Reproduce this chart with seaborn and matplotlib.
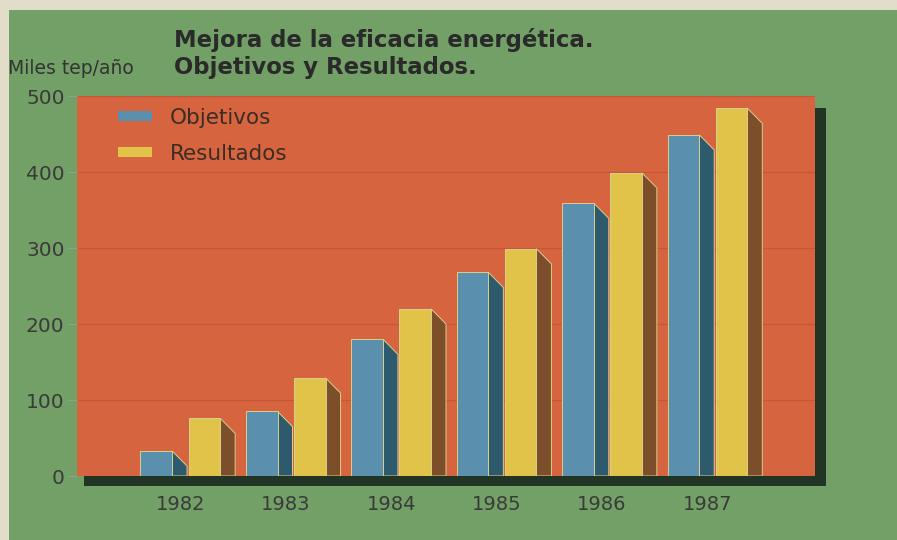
import matplotlib.pyplot as plt
import matplotlib.patches as mpatches
import seaborn as sns
import pandas as pd

# data
years = ["1982", "1983", "1984", "1985", "1986", "1987"]
objetivos = [33, 85, 180, 268, 359, 449]
resultados = [76, 129, 220, 299, 399, 484]
series = ["Objetivos", "Resultados"]

# colours
beige = "#e2ddc9"
green = "#72a066"
red = "#d6643f"
shadow = "#223524"
blue = "#5a8fae"
blue_side = "#2d5a6c"
yellow = "#e2c349"
yellow_side = "#7c4e29"
edge = "#d8cf8c"

df = pd.DataFrame({
    "year": years * 2,
    "value": objetivos + resultados,
    "serie": [series[0]] * len(years) + [series[1]] * len(years),
})

sns.set_style("white")
plt.rcParams["font.family"] = ["DejaVu Sans"]

W, H = 897, 540
fig = plt.figure(figsize=(W / 100, H / 100), dpi=100)
fig.patch.set_facecolor(beige)

# green board and the dark drop shadow behind the plot area
fig.patches.append(mpatches.Rectangle((9 / W, 0), 1, 530 / H, transform=fig.transFigure,
                                      facecolor=green, edgecolor="none", zorder=0))
fig.patches.append(mpatches.Rectangle((84 / W, 1 - 486 / H), (826 - 84) / W, (486 - 108) / H,
                                      transform=fig.transFigure, facecolor=shadow,
                                      edgecolor="none", zorder=1))

ax = fig.add_axes([77 / W, 1 - 476 / H, 738 / W, 380 / H])
ax.set_zorder(2)
ax.set_facecolor(red)

sns.barplot(data=df, x="year", y="value", hue="serie", palette=[blue, yellow],
            saturation=1, width=0.912, gap=0.342, edgecolor=edge, linewidth=0.7,
            legend=False, ax=ax, zorder=3)

# right-hand side faces of the 3D bars
depth_x, depth_y = 0.142, 20
for cont, side_col in zip(ax.containers, [blue_side, yellow_side]):
    for bar in cont:
        x1 = bar.get_x() + bar.get_width()
        h = bar.get_height()
        pts = [(x1, h), (x1 + depth_x, max(h - depth_y, 0)), (x1 + depth_x, 0), (x1, 0)]
        ax.add_patch(mpatches.Polygon(pts, closed=True, facecolor=side_col,
                                      edgecolor=edge, linewidth=0.7, zorder=2.9))

ax.set_xlim(-0.98, 6.02)
ax.set_ylim(0, 500)
ax.set_yticks([0, 100, 200, 300, 400, 500])
ax.yaxis.grid(True, color="#c8553a", linewidth=0.9)
ax.xaxis.grid(False)
ax.set_axisbelow(True)
for s in ax.spines.values():
    s.set_visible(False)
ax.set_xlabel("")
ax.set_ylabel("")
ax.tick_params(axis="x", length=0, pad=14, labelsize=14, labelcolor="#3a3a3a")
ax.tick_params(axis="y", length=7, width=0.8, color="#93a088", pad=2,
               labelsize=14.5, labelcolor="#3a3a3a", left=True)

handles = [mpatches.Patch(facecolor=c, edgecolor="none") for c in [blue, yellow]]
leg = ax.legend(handles, series, loc="upper left", bbox_to_anchor=(0.0556, 0.969),
                frameon=False, fontsize=15.5, handlelength=1.58, handleheight=0.33,
                handletextpad=0.84, labelspacing=0.74, borderaxespad=0, borderpad=0)
for t in leg.get_texts():
    t.set_color("#3b2d25")

fig.text(174 / W, 1 - 46.7 / H, "Mejora de la eficacia energética.", fontsize=16.4,
         fontweight="bold", color="#2a2a2a", va="baseline", ha="left")
fig.text(174 / W, 1 - 74 / H, "Objetivos y Resultados.", fontsize=16.4,
         fontweight="bold", color="#2a2a2a", va="baseline", ha="left")
fig.text(8 / W, 1 - 74 / H, "Miles tep/año", fontsize=13.5, color="#333333",
         va="baseline", ha="left")

fig.savefig("out.png", dpi=100, facecolor=fig.get_facecolor())
